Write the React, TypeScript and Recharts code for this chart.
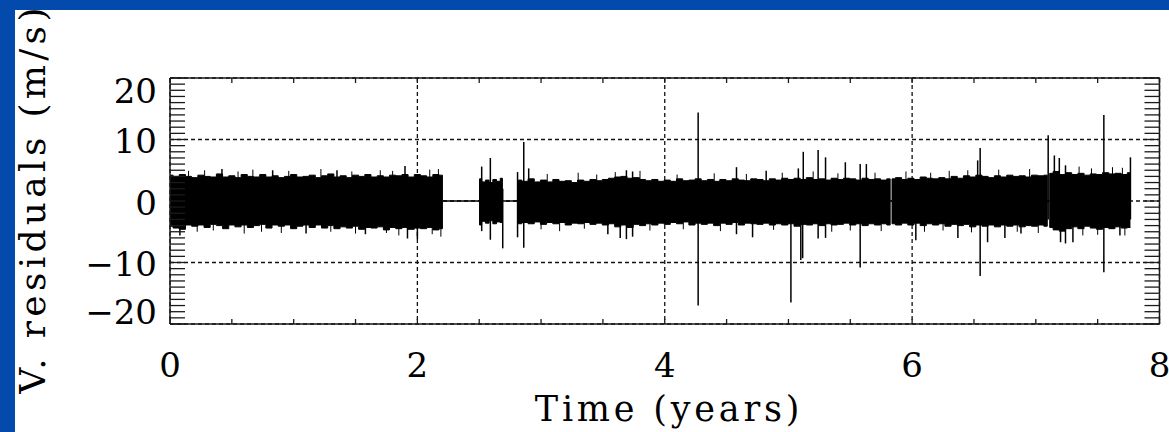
import React from 'react';
import { ComposedChart, Area, Scatter, ErrorBar, XAxis, YAxis, CartesianGrid } from 'recharts';

// ---------- axes ----------
const X_TICKS = [0, 2, 4, 6, 8];
const X_MINOR = [0, 0.5, 1, 1.5, 2, 2.5, 3, 3.5, 4, 4.5, 5, 5.5, 6, 6.5, 7, 7.5, 8];
const Y_TICKS = [-20, -10, 0, 10, 20];
const Y_MINOR = [
  -20, -19, -18, -17, -16, -15, -14, -13, -12, -11, -10, -9, -8, -7, -6, -5, -4, -3, -2, -1, 0,
  1, 2, 3, 4, 5, 6, 7, 8, 9, 10, 11, 12, 13, 14, 15, 16, 17, 18, 19, 20,
];

// ---------- noise band envelope (years, m/s) ----------
const segAStart = 0;
const segAStep = 0.05;
const segAHi = [4.2, 3.9, 4.3, 4.0, 3.8, 4.2, 4.0, 3.9, 4.4, 3.9, 4.1, 3.8, 4.3, 4.0, 3.9, 4.3, 3.9, 4.1, 3.8, 4.0, 4.3, 3.9, 4.0, 4.2, 3.8, 4.1, 4.4, 3.9, 4.1, 3.8, 4.2, 4.0, 4.3, 3.9, 4.1, 3.9, 4.2, 4.1, 4.3, 3.9, 4.3, 4.1, 3.9, 4.3, 4.2];
const segALo = [-4.1, -4.4, -4.6, -3.9, -4.1, -3.9, -4.3, -3.8, -4.0, -4.5, -3.9, -4.2, -3.9, -4.3, -4.0, -3.8, -4.4, -3.9, -4.1, -3.9, -4.5, -4.1, -3.9, -4.3, -3.9, -4.4, -4.0, -4.5, -4.2, -4.4, -4.1, -4.6, -4.3, -4.4, -4.2, -4.7, -4.3, -4.5, -4.3, -4.6, -4.4, -4.5, -4.3, -4.7, -4.5];

const segBStart = 2.505;
const segBStep = 0.03;
const segBHi = [3.6, 3.1, 3.4, 3.0, 3.5, 3.2, 3.7];
const segBLo = [-3.9, -3.3, -3.6, -3.2, -3.7, -3.4, -3.5];

const segCStart = 2.82;
const segCStep = 0.05;
const segCHi = [
  3.4, 3.2, 3.6, 3.1, 3.4, 3.1, 3.5, 3.2, 3.3, 3.0,
  3.4, 3.2, 3.5, 3.3, 3.5, 3.7, 3.9, 4.0, 3.7, 3.8,
  3.5, 3.3, 3.5, 3.2, 3.4, 3.2, 3.6, 3.3, 3.4, 3.6,
  3.3, 3.5, 3.2, 3.5, 3.3, 3.6, 3.4, 3.3, 3.6, 3.5,
  3.3, 3.6, 3.4, 3.7, 3.5, 3.7, 3.5, 3.8, 3.5, 3.6,
  3.4, 3.7, 3.5, 3.7, 3.6, 3.4, 3.7, 3.5, 3.6, 3.4, 3.6,
];
const segCLo = [
  -3.7, -3.5, -3.7, -3.4, -3.8, -3.5, -3.7, -3.5, -3.9, -3.6,
  -3.7, -3.5, -3.8, -3.6, -3.9, -3.7, -4.2, -3.9, -4.3, -3.8,
  -4.0, -3.7, -3.9, -3.6, -3.8, -3.5, -3.7, -3.4, -3.9, -3.6,
  -3.8, -3.6, -4.0, -3.6, -3.8, -3.5, -3.9, -3.6, -3.7, -3.8,
  -3.6, -3.9, -3.7, -3.9, -3.7, -4.1, -3.8, -3.9, -3.7, -4.0,
  -3.7, -3.9, -3.8, -3.6, -3.9, -3.7, -4.0, -3.7, -3.9, -3.7, -3.9,
];

const segDStart = 5.84;
const segDStep = 0.05;
const segDHi = [3.6, 3.8, 3.5, 3.7, 3.5, 3.9, 3.7, 3.6, 3.8, 3.6, 4.0, 3.7, 4.1, 3.9, 4.2, 4.0, 3.8, 4.1, 3.9, 4.2, 4.0, 4.1, 3.9, 4.2, 4.1, 4.2];
const segDLo = [-3.7, -3.9, -3.6, -3.9, -3.6, -4.0, -3.7, -3.9, -3.7, -4.1, -3.8, -4.0, -3.8, -4.2, -3.9, -4.1, -3.9, -4.2, -3.9, -4.1, -3.9, -4.2, -4.0, -4.1, -3.9, -4.1];

const segEStart = 7.115;
const segEStep = 0.05;
const segEHi = [4.5, 4.8, 4.3, 4.6, 4.3, 4.5, 4.2, 4.4, 4.3, 4.6, 4.4, 4.5, 4.3, 4.6];
const segELo = [-4.3, -4.7, -4.9, -4.5, -4.2, -4.5, -4.1, -4.4, -4.6, -4.3, -4.5, -4.2, -4.4, -4.3];

// data gaps (flat at zero)
const gapTimes = [
  [2.205, 2.5],
  [2.69, 2.815],
  [5.825, 5.835],
  [7.095, 7.11],
];

// ---------- isolated spikes ----------
const spikeTimes = [0.08, 0.42, 0.83, 1.1, 1.35, 1.58, 1.9, 1.92, 2.0, 2.52, 2.59, 2.69, 2.81, 2.86, 2.9, 3.54, 3.64, 3.69, 3.74, 4.27, 4.58, 4.71, 4.82, 5.02, 5.08, 5.1, 5.115, 5.12, 5.24, 5.3, 5.46, 5.58, 5.63, 6.03, 6.37, 6.53, 6.55, 6.61, 6.75, 6.88, 7.1, 7.15, 7.19, 7.2, 7.24, 7.3, 7.55, 7.68, 7.765];
const spikeTops = [2, 5.2, 5.0, 2, 5.0, 2, 5.7, 2, 2, 5.6, 7.0, 2, 4.7, 9.6, 5.3, 2, 2, 5.0, 4.8, 14.4, 5.5, 2, 4.9, 2, 5.3, 2, 2, 8.0, 8.3, 7.1, 6.3, 6.0, 6.0, 2, 2, 6.6, 8.6, 2, 2, 2, 10.7, 7.4, 7.0, 2, 5.8, 2, 14.0, 2, 7.1];
const spikeBottoms = [-5.6, -2, -3, -5.3, -2, -5.4, -2, -6.1, -6.2, -4.9, -6.3, -7.7, -5.9, -7.6, -2, -5.4, -6.0, -6.2, -5.8, -17.0, -5.4, -5.9, -2, -16.5, -2, -9.6, -9.3, -2, -6.1, -6.0, -2, -10.8, -2, -6.4, -6.0, -2, -12.2, -6.7, -6.0, -5.3, -3, -2, -2, -6.7, -6.9, -6.7, -11.6, -5.6, -3];

// ---------- small hairs on the band edges ----------
const hairTimes = [0.15, 0.22, 0.28, 0.35, 0.55, 0.6, 0.67, 0.74, 0.9, 0.96, 1.22, 1.3, 1.47, 1.5, 1.7, 1.75, 1.8, 1.85, 2.1, 2.12, 2.17, 2.19, 3.0, 3.05, 3.15, 3.3, 3.35, 3.45, 3.6, 3.8, 3.88, 4.1, 4.15, 4.4, 4.45, 4.66, 4.88, 4.95, 5.2, 5.35, 5.4, 5.5, 5.7, 5.75, 5.95, 6.1, 6.15, 6.25, 6.3, 6.45, 6.48, 6.7, 6.85, 6.95, 7.02, 7.35, 7.38, 7.45, 7.5, 7.62, 7.7, 7.72];
const hairTops = [4.9, 0, 5.0, 0, 4.8, 0, 5.1, 0, 0, 4.9, 5.2, 0, 4.8, 0, 5.0, 0, 4.9, 0, 5.1, 0, 5.2, 0, 0, 4.4, 0, 4.6, 0, 4.3, 4.7, 4.9, 0, 4.3, 0, 4.5, 0, 4.4, 0, 4.6, 4.8, 0, 4.5, 0, 4.6, 0, 4.8, 0, 4.6, 0, 4.9, 5.0, 0, 5.1, 0, 5.2, 0, 5.6, 0, 5.3, 0, 5.5, 5.4, 0];
const hairBottoms = [0, -5.0, 0, -4.8, 0, -5.3, 0, -5.0, -5.2, 0, 0, -5.0, 0, -5.3, 0, -5.2, 0, -5.6, 0, -5.4, 0, -5.8, -4.6, 0, -4.9, 0, -4.5, 0, 0, 0, -4.8, 0, -4.6, 0, -4.9, 0, -4.7, 0, 0, -5.0, 0, -4.8, 0, -4.9, 0, -5.0, 0, -4.8, 0, 0, -5.1, 0, -5.0, 0, -5.2, 0, -5.6, 0, -5.5, 0, 0, -5.6];

// ---------- build tables ----------
const segments = [
  { start: segAStart, step: segAStep, hi: segAHi, lo: segALo },
  { start: segBStart, step: segBStep, hi: segBHi, lo: segBLo },
  { start: segCStart, step: segCStep, hi: segCHi, lo: segCLo },
  { start: segDStart, step: segDStep, hi: segDHi, lo: segDLo },
  { start: segEStart, step: segEStep, hi: segEHi, lo: segELo },
];

const bandRows: { t: number; range: [number, number] }[] = [];
segments.forEach((s, k) => {
  s.hi.forEach((h, i) => {
    bandRows.push({ t: +(s.start + i * s.step).toFixed(4), range: [s.lo[i], h] });
  });
  if (k < gapTimes.length) {
    gapTimes[k].forEach((t) => bandRows.push({ t, range: [0, 0] }));
  }
});

const spikeRows = spikeTimes.map((t, i) => ({ t, mid: 0, err: [-spikeBottoms[i], spikeTops[i]] }));
const hairRows = hairTimes.map((t, i) => ({ t, mid: 0, err: [-hairBottoms[i], hairTops[i]] }));

// ---------- styling ----------
const FONT = '"DejaVu Serif", serif';
const BLUE = '#0449AC';
const FRAME = '#1a1a1a';

const fmt = (v: number) => (v < 0 ? `\u2212${-v}` : `${v}`);

const XTick = (props: any) => {
  const { x, y, payload } = props;
  return (
    <text x={x} y={y} dy={52.5} textAnchor="middle" fill="#000" style={{ fontFamily: FONT, fontSize: 34 }}>
      {fmt(payload.value)}
    </text>
  );
};

const YTick = (props: any) => {
  const { x, y, payload } = props;
  const v = payload.value;
  const adj = v === 20 ? 13 : v === -20 ? -12 : 1.5;
  return (
    <text x={x} y={y} dy={12.4 + adj} textAnchor="end" fill="#000" style={{ fontFamily: FONT, fontSize: 34 }}>
      {fmt(v)}
    </text>
  );
};

const YTitle = () => (
  <text
    x={45}
    y={198.5}
    transform="rotate(-90, 45, 198.5)"
    textAnchor="middle"
    fill="#000"
    style={{ fontFamily: FONT, fontSize: 36, letterSpacing: 4.3 }}
  >
    V. residuals (m/s)
  </text>
);

const XTitle = () => (
  <text x={669} y={421} textAnchor="middle" fill="#000" style={{ fontFamily: FONT, fontSize: 35, letterSpacing: 3.8 }}>
    Time (years)
  </text>
);

const Empty = () => <g />;
const TINY = 0.001;

export default function App() {
  return (
    <div style={{ position: 'absolute', left: 0, top: 0, width: 1169, height: 432, background: '#fff', overflow: 'hidden' }}>
      <ComposedChart width={1169} height={432} margin={{ top: 78, right: 9.5, bottom: 48, left: 0 }}>
        <CartesianGrid stroke="#111" strokeDasharray="4 3" strokeWidth={1.3} />
        <XAxis
          xAxisId="combBottom"
          dataKey="t"
          type="number"
          domain={[0, 8]}
          allowDataOverflow
          ticks={X_MINOR}
          interval={0}
          orientation="bottom"
          mirror
          height={TINY}
          tickSize={5}
          axisLine={false}
          tickLine={{ stroke: FRAME, strokeWidth: 1.3 }}
          tick={<Empty />}
        />
        <XAxis
          xAxisId="combTop"
          dataKey="t"
          type="number"
          domain={[0, 8]}
          allowDataOverflow
          ticks={X_MINOR}
          interval={0}
          orientation="top"
          mirror
          height={TINY}
          tickSize={5}
          axisLine={{ stroke: FRAME, strokeWidth: 1.5 }}
          tickLine={{ stroke: FRAME, strokeWidth: 1.3 }}
          tick={<Empty />}
        />
        <XAxis
          dataKey="t"
          type="number"
          domain={[0, 8]}
          allowDataOverflow
          ticks={X_TICKS}
          interval={0}
          height={60}
          tickLine={false}
          tickSize={0}
          tickMargin={0}
          axisLine={{ stroke: FRAME, strokeWidth: 1.5 }}
          tick={<XTick />}
          label={<XTitle />}
        />
        <YAxis
          yAxisId="combLeft"
          type="number"
          domain={[-20, 20]}
          allowDataOverflow
          ticks={Y_MINOR}
          interval={0}
          orientation="left"
          mirror
          width={TINY}
          tickSize={15}
          axisLine={false}
          tickLine={{ stroke: FRAME, strokeWidth: 1.3 }}
          tick={<Empty />}
        />
        <YAxis
          yAxisId="combRight"
          type="number"
          domain={[-20, 20]}
          allowDataOverflow
          ticks={Y_MINOR}
          interval={0}
          orientation="right"
          mirror
          width={TINY}
          tickSize={15}
          axisLine={{ stroke: FRAME, strokeWidth: 1.5 }}
          tickLine={{ stroke: FRAME, strokeWidth: 1.3 }}
          tick={<Empty />}
        />
        <YAxis
          type="number"
          domain={[-20, 20]}
          allowDataOverflow
          ticks={Y_TICKS}
          interval={0}
          width={170}
          tickLine={false}
          tickSize={0}
          tickMargin={13}
          axisLine={{ stroke: FRAME, strokeWidth: 1.5 }}
          tick={<YTick />}
          label={<YTitle />}
        />
        <Area
          data={bandRows}
          dataKey="range"
          type="step"
          stroke="#000"
          strokeWidth={1}
          fill="#000"
          fillOpacity={1}
          isAnimationActive={false}
          dot={false}
          activeDot={false}
        />
        <Scatter data={hairRows} dataKey="mid" shape={<Empty />} isAnimationActive={false}>
          <ErrorBar dataKey="err" direction="y" width={0} stroke="#000" strokeWidth={1} isAnimationActive={false} />
        </Scatter>
        <Scatter data={spikeRows} dataKey="mid" shape={<Empty />} isAnimationActive={false}>
          <ErrorBar dataKey="err" direction="y" width={0} stroke="#000" strokeWidth={1.5} isAnimationActive={false} />
        </Scatter>
      </ComposedChart>
      <div style={{ position: 'absolute', left: 0, top: 0, width: 1169, height: 10, background: BLUE }} />
      <div style={{ position: 'absolute', left: 0, top: 0, width: 15, height: 432, background: BLUE }} />
    </div>
  );
}
